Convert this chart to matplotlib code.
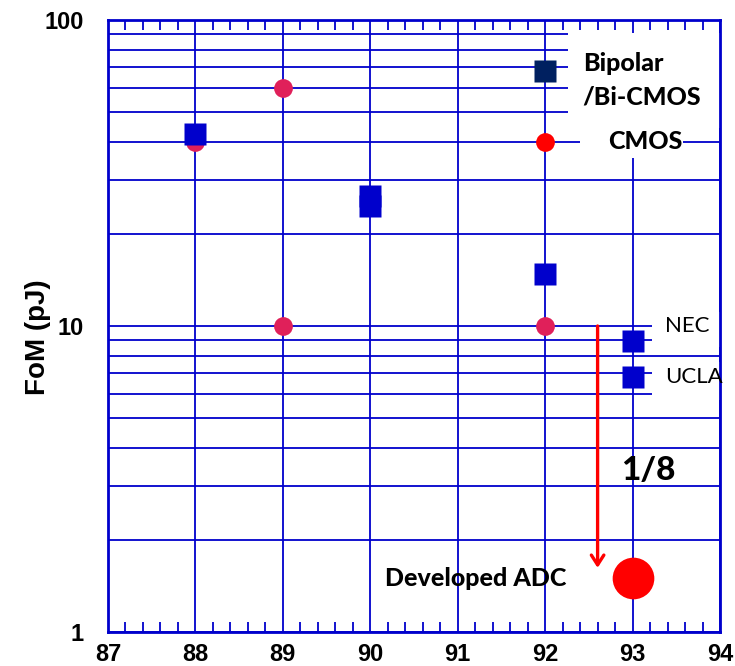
import matplotlib
matplotlib.use("Agg")
import matplotlib.pyplot as plt
from matplotlib.ticker import FixedLocator, MultipleLocator, NullFormatter
from matplotlib.patches import Rectangle

# Bipolar / Bi-CMOS ADCs (blue squares)
bipolar_year = [88, 90, 90, 92, 93, 93]
bipolar_fom = [42.4, 26.6, 24.6, 14.8, 8.9, 6.8]

# CMOS ADCs (crimson circles)
cmos_year = [88, 89, 89, 92]
cmos_fom = [40, 60, 10, 10]

# legend marks drawn inside the plot
legend_year = [92, 92]
legend_fom = [68, 40]

# developed ADC and the 1/8 arrow
dev_year = [93]
dev_fom = [1.5]
arrow_year = 92.6
arrow_from, arrow_to = 10, 1.62

x_ticks = [87, 88, 89, 90, 91, 92, 93, 94]
y_ticks = [1, 10, 100]

BLUE = "#0000CC"
PINK = "#E0205A"
RED = "#FF0000"
NAVY = "#002060"

text_font = ["Lato", "DejaVu Sans"]
tick_font = ["Liberation Sans Narrow", "Liberation Sans", "DejaVu Sans"]
HEAVY = 900

fig = plt.figure(figsize=(7.35, 6.66), dpi=100)
ax = fig.add_axes([108 / 735, 34 / 666, 612 / 735, 612 / 666])

ax.set_yscale("log")
ax.set_xlim(87, 94)
ax.set_ylim(1, 100)

# grid: vertical at every year, horizontal at every log step
ax.xaxis.set_major_locator(FixedLocator(x_ticks))
ax.xaxis.set_minor_locator(MultipleLocator(0.2))
ax.yaxis.set_major_locator(FixedLocator(y_ticks))
ax.yaxis.set_minor_locator(FixedLocator([v * d for d in (1, 10) for v in range(2, 10)]))
ax.yaxis.set_minor_formatter(NullFormatter())
ax.set_yticklabels([str(v) for v in y_ticks])
ax.set_axisbelow(True)
ax.grid(axis="x", which="major", color=BLUE, lw=1.3)
ax.grid(axis="y", which="both", color=BLUE, lw=1.3)

for s in ax.spines.values():
    s.set_color(BLUE)
    s.set_linewidth(2)

ax.tick_params(axis="x", which="major", length=0, pad=8)
ax.tick_params(axis="x", which="minor", direction="in", top=True, bottom=True,
               length=7, width=1.3, color=BLUE)
ax.tick_params(axis="y", which="both", left=False, right=False, pad=14)
for lab in ax.get_xticklabels() + ax.get_yticklabels():
    lab.set_family(tick_font)
    lab.set_fontweight("bold")
    lab.set_fontsize(17)

# white boxes behind the legend and labels
def white_box(x0, x1, y0, y1):
    ax.add_patch(Rectangle((x0, y0), x1 - x0, y1 - y0, facecolor="white",
                           edgecolor="none", zorder=1))

white_box(92.26, 94, 44.4, 90.7)
white_box(92.40, 93.58, 35.4, 44.4)
white_box(93.22, 94, 8.55, 11.1)
white_box(93.22, 94, 5.75, 7.6)

# data
ax.plot(cmos_year, cmos_fom, "o", color=PINK, ms=13.5, mec="none", zorder=3)
ax.plot(bipolar_year, bipolar_fom, "s", color=BLUE, ms=15.5, mec="none", zorder=4)
ax.plot(legend_year[:1], legend_fom[:1], "s", color=NAVY, ms=15.5, mec="none", zorder=4)
ax.plot(legend_year[1:], legend_fom[1:], "o", color=RED, ms=13.5, mec="none", zorder=4)
ax.plot(dev_year, dev_fom, "o", color=RED, ms=30, mec="none", zorder=4)

ax.annotate("", xy=(arrow_year, arrow_to), xytext=(arrow_year, arrow_from),
            arrowprops=dict(arrowstyle="->,head_length=0.7,head_width=0.45",
                            color=RED, lw=2.4, shrinkA=0, shrinkB=0), zorder=4)

# labels
ax.text(92.43, 72.3, "Bipolar", family=text_font, fontweight=HEAVY, fontsize=18,
        ha="left", va="center", zorder=5)
ax.text(92.43, 56, "/Bi-CMOS", family=text_font, fontweight=HEAVY, fontsize=18,
        ha="left", va="center", zorder=5)
ax.text(93.15, 40, "CMOS", family=text_font, fontweight=HEAVY, fontsize=18,
        ha="center", va="center", zorder=5)
ax.text(93.37, 10, "NEC", family=text_font, fontsize=16, ha="left", va="center", zorder=5)
ax.text(93.37, 6.8, "UCLA", family=text_font, fontsize=16, ha="left", va="center", zorder=5)
ax.text(93.18, 3.38, "1/8", family=text_font, fontweight=HEAVY, fontsize=24,
        ha="center", va="center", zorder=5)
ax.text(91.21, 1.5, "Developed ADC", family=text_font, fontweight=HEAVY, fontsize=18,
        ha="center", va="center", zorder=5)

fig.text(38 / 735, 1 - 337 / 666, "FoM (pJ)", family=["Liberation Sans", "DejaVu Sans"],
         fontweight="bold", fontsize=20, rotation=90, ha="center", va="center")

fig.savefig("out.png", dpi=100)
